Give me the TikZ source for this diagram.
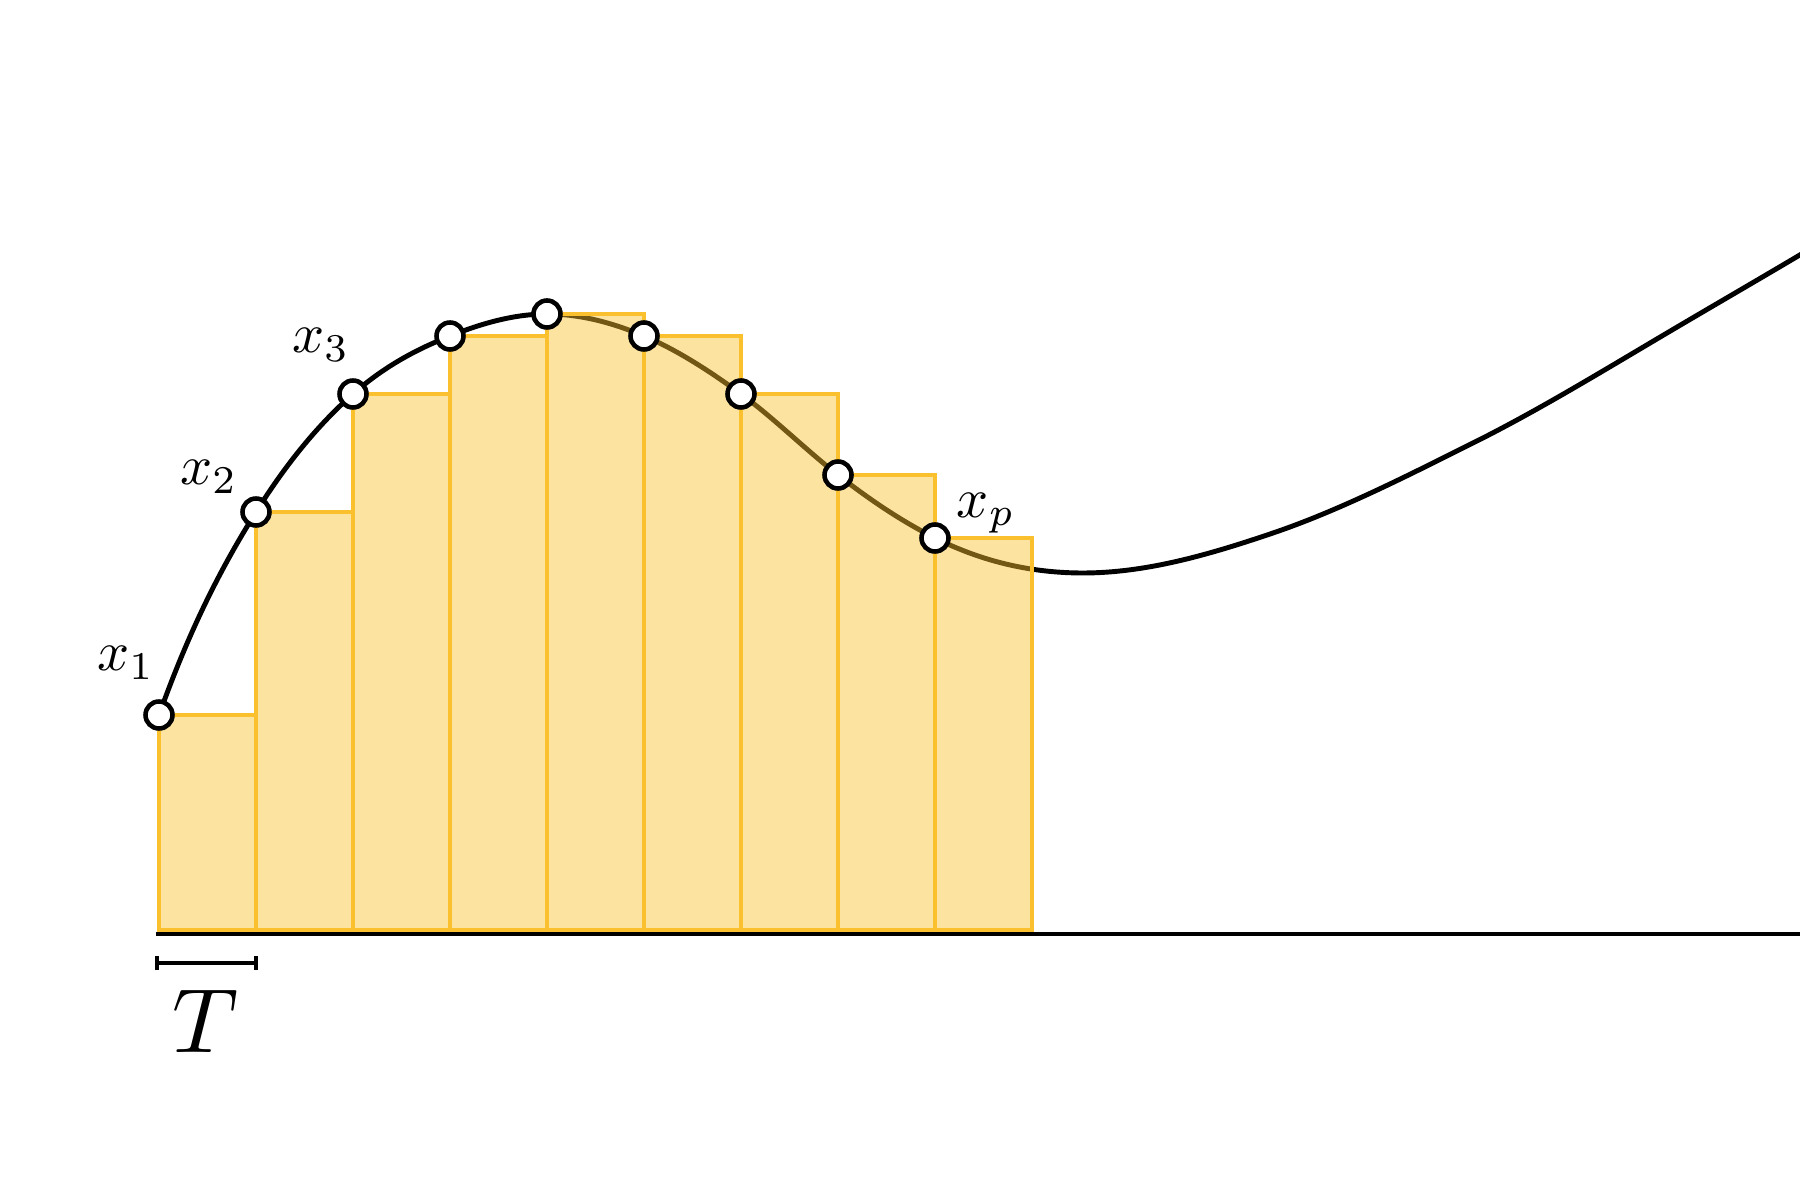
\documentclass[tikz,border=0pt]{standalone}
\usepackage{graphicx}
\definecolor{amber}{RGB}{251,192,45}
\tikzset{
  curve/.style={line width=1.4pt, black},
  bar/.style={draw=amber, line width=1.25pt, fill=amber, fill opacity=0.45},
  samp/.style={circle, draw=black, fill=white, line width=1.3pt, minimum size=0.27cm, inner sep=0pt},
  lab/.style={inner sep=0pt},
  axis/.style={line width=0.95pt, black},
}
\newcommand{\labtext}[1]{\scalebox{1.6}{$#1$}}
\newcommand{\bigtext}[1]{\scalebox{2.6}{$#1$}}
\begin{document}
\begin{tikzpicture}
\useasboundingbox (0,0) rectangle (18,12);
% sample points
\coordinate (c1) at (1.59,4.85);
\coordinate (c2) at (2.56,6.88);
\coordinate (c3) at (3.53,8.06);
\coordinate (c4) at (4.50,8.64);
\coordinate (c5) at (5.47,8.86);
\coordinate (c6) at (6.44,8.64);
\coordinate (c7) at (7.41,8.06);
\coordinate (c8) at (8.38,7.25);
\coordinate (c9) at (9.35,6.62);
\coordinate (d1) at (10.83,6.27);
\coordinate (d2) at (12.73,6.67);
\coordinate (d3) at (14.73,7.57);
\coordinate (d4) at (16.67,8.67);
\coordinate (d5) at (18.30,9.63);
% curve
\begin{scope}
\clip (0,0) rectangle (18,12);
\draw[curve] (c1)
  .. controls (1.913,5.755) and (2.237,6.363) .. (c2)
  .. controls (2.883,7.397) and (3.207,7.775) .. (c3)
  .. controls (3.853,8.345) and (4.177,8.511) .. (c4)
  .. controls (4.823,8.769) and (5.147,8.86) .. (c5)
  .. controls (5.793,8.86) and (6.117,8.776) .. (c6)
  .. controls (6.763,8.504) and (7.087,8.296) .. (c7)
  .. controls (7.733,7.824) and (8.057,7.502) .. (c8)
  .. controls (8.703,6.998) and (9.027,6.782) .. (c9)
  .. controls (9.843,6.373) and (10.337,6.27) .. (d1)
  .. controls (11.463,6.27) and (12.097,6.455) .. (d2)
  .. controls (13.397,6.897) and (14.063,7.237) .. (d3)
  .. controls (15.377,7.893) and (16.023,8.288) .. (d4)
  .. controls (17.213,8.991) and (17.757,9.304) .. (d5);
\end{scope}
% bars
\foreach \i/\x/\y in {1/1.59/4.85, 2/2.56/6.88, 3/3.53/8.06, 4/4.50/8.64, 5/5.47/8.86, 6/6.44/8.64, 7/7.41/8.06, 8/8.38/7.25, 9/9.35/6.62}
  \draw[bar] (\x,2.70) rectangle ++(0.97,\y-2.70);
% axis
\coordinate (a0) at (1.56,2.66);
\coordinate (a1) at (18,2.66);
\draw[axis] (a0) -- (a1);
% T bracket
\coordinate (t0) at (1.57,2.37);
\coordinate (t1) at (2.56,2.37);
\draw[axis] (t0) -- (t1);
\draw[axis] ([yshift=-0.07cm]t0) -- ([yshift=0.07cm]t0);
\draw[axis] ([yshift=-0.07cm]t1) -- ([yshift=0.07cm]t1);
\node[lab] (T) at (2.06,1.79) {\bigtext{T}};
% sample circles
\foreach \i in {1,...,9} \node[samp] (p\i) at (c\i) {};
% labels
\node[lab] (l1) at (1.26,5.37) {\labtext{x_1}};
\node[lab] (l2) at (2.09,7.23) {\labtext{x_2}};
\node[lab] (l3) at (3.21,8.55) {\labtext{x_3}};
\node[lab] (lp) at (9.86,6.87) {\labtext{x_p}};
\end{tikzpicture}
\end{document}
